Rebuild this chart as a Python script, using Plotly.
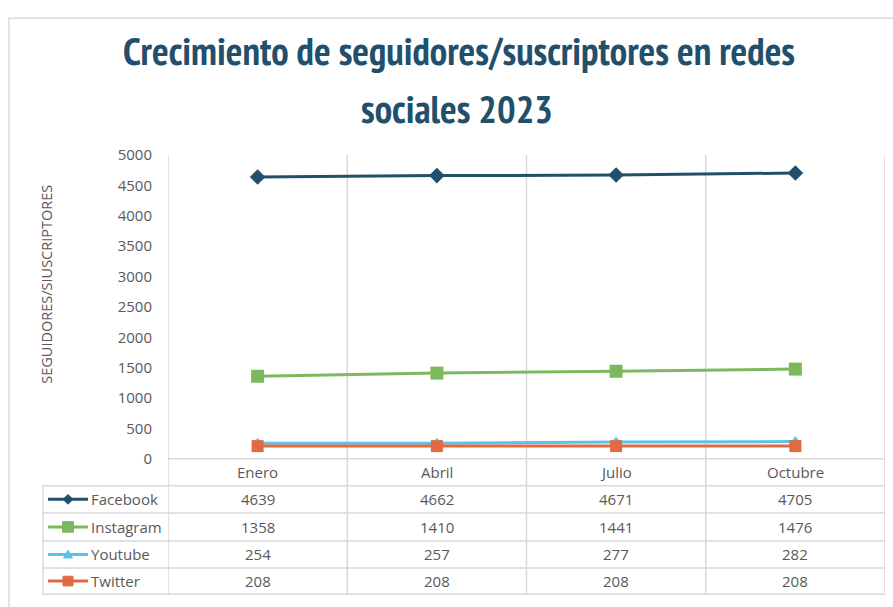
import plotly.graph_objects as go

categories = ["Enero", "Abril", "Julio", "Octubre"]
facebook = [4639, 4662, 4671, 4705]
instagram = [1358, 1410, 1441, 1476]
youtube = [254, 257, 277, 282]
twitter = [208, 208, 208, 208]
series_names = ["Facebook", "Instagram", "Youtube", "Twitter"]
y_ticks = list(range(0, 5001, 500))
title_lines = ["Crecimiento de seguidores/suscriptores en redes", "sociales 2023"]
y_title = "SEGUIDORES/SIUSCRIPTORES"

W, H = 893, 607
def px(x):
    return x / W
def py(y):
    return 1 - y / H

colors = {"Facebook": "#22506C", "Instagram": "#7CB95E", "Youtube": "#5BC3EA", "Twitter": "#E06B43"}
symbols = {"Facebook": "diamond", "Instagram": "square", "Youtube": "triangle-up", "Twitter": "square"}
msizes = {"Facebook": 12, "Instagram": 13, "Youtube": 11, "Twitter": 12}
data = {"Facebook": facebook, "Instagram": instagram, "Youtube": youtube, "Twitter": twitter}

GRID = "#D9D9D9"
TXT = "#595959"
FONT = "Open Sans, Liberation Sans, sans-serif"
TFONT = "PT Sans Narrow, Fira Sans Condensed, Roboto Condensed, sans-serif"
TCOLOR = "#22506C"
TSIZE = 39

fig = go.Figure()
xs = list(range(len(categories)))
for name in series_names:
    fig.add_trace(go.Scatter(
        x=xs, y=data[name], mode="lines+markers", name=name,
        line=dict(color=colors[name], width=3),
        marker=dict(symbol=symbols[name], size=msizes[name], color=colors[name]),
        showlegend=False, cliponaxis=False,
    ))

plot_l, plot_r, plot_t, plot_b = 168, 885, 149, 463
tab_left = 43
row_edges = [463, 491, 519, 548, 576, 603]

shapes = []
for i in range(len(categories) + 1):
    shapes.append(dict(type="line", xref="x", yref="paper", x0=i - 0.5, x1=i - 0.5,
                       y0=py(row_edges[-1]), y1=py(plot_t), line=dict(color=GRID, width=1.5), layer="below"))
shapes.append(dict(type="line", xref="paper", yref="paper", x0=px(tab_left), x1=px(tab_left),
                   y0=py(row_edges[-1]), y1=py(row_edges[1]), line=dict(color=GRID, width=1.5)))
shapes.append(dict(type="line", xref="paper", yref="paper", x0=px(plot_l), x1=px(plot_r),
                   y0=py(row_edges[0]), y1=py(row_edges[0]), line=dict(color=GRID, width=1.5), layer="below"))
for y in row_edges[1:]:
    shapes.append(dict(type="line", xref="paper", yref="paper", x0=px(tab_left), x1=px(plot_r),
                       y0=py(y), y1=py(y), line=dict(color=GRID, width=1.5)))
shapes.append(dict(type="rect", xref="paper", yref="paper", x0=px(9), x1=px(905), y0=py(620), y1=py(7.5),
                   line=dict(color="#D9D9D9", width=1.5), fillcolor="rgba(0,0,0,0)", layer="below"))


def marker_path(sym, cx, cy, s):
    h = s / 2
    if sym == "diamond":
        pts = [(cx, cy - h), (cx + h, cy), (cx, cy + h), (cx - h, cy)]
    elif sym == "square":
        pts = [(cx - h, cy - h), (cx + h, cy - h), (cx + h, cy + h), (cx - h, cy + h)]
    else:
        pts = [(cx, cy - h), (cx + h, cy + h * 0.8), (cx - h, cy + h * 0.8)]
    return "M " + " L ".join(f"{px(a)},{py(b)}" for a, b in pts) + " Z"


annotations = []
hc = (row_edges[0] + row_edges[1]) / 2
for i, c in enumerate(categories):
    annotations.append(dict(x=i, y=py(hc), xref="x", yref="paper", text=c, showarrow=False,
                            font=dict(family=FONT, size=15, color=TXT), xanchor="center", yanchor="middle"))
for r, name in enumerate(series_names):
    yc = (row_edges[r + 1] + row_edges[r + 2]) / 2
    shapes.append(dict(type="line", xref="paper", yref="paper", x0=px(48), x1=px(88), y0=py(yc), y1=py(yc),
                       line=dict(color=colors[name], width=3)))
    shapes.append(dict(type="path", xref="paper", yref="paper",
                       path=marker_path(symbols[name], 68, yc, msizes[name] - 2),
                       fillcolor=colors[name], line=dict(color=colors[name], width=1)))
    annotations.append(dict(x=px(89), y=py(yc), xref="paper", yref="paper", text=name, showarrow=False,
                            font=dict(family=FONT, size=15, color=TXT), xanchor="left", yanchor="middle"))
    for i, v in enumerate(data[name]):
        annotations.append(dict(x=i, y=py(yc), xref="x", yref="paper", text=str(v), showarrow=False,
                                font=dict(family=FONT, size=15, color=TXT), xanchor="center", yanchor="middle"))

annotations.append(dict(x=px(47), y=py(283), xref="paper", yref="paper", text=y_title,
                        textangle=-90, showarrow=False, font=dict(family=FONT, size=14.5, color=TXT),
                        xanchor="center", yanchor="middle"))
annotations.append(dict(x=px(457), y=py(101), xref="paper", yref="paper", text=title_lines[1],
                        showarrow=False, xanchor="center", yanchor="middle",
                        font=dict(family=TFONT, size=TSIZE, color=TCOLOR, weight="bold")))

fig.update_layout(
    width=W, height=H,
    margin=dict(l=0, r=0, t=0, b=0),
    paper_bgcolor="white", plot_bgcolor="rgba(0,0,0,0)",
    title=dict(text=title_lines[0],
               x=px(459), xanchor="center", y=py(51), yanchor="middle",
               font=dict(family=TFONT, size=TSIZE, color=TCOLOR, weight="bold")),
    xaxis=dict(domain=[px(plot_l), px(plot_r)], range=[-0.5, len(categories) - 0.5],
               showticklabels=False, showgrid=False, zeroline=False, showline=False, ticks=""),
    yaxis=dict(domain=[py(plot_b), py(plot_t)], range=[0, 5000], tickvals=y_ticks,
               showgrid=False, zeroline=False, showline=False, ticks="", ticklabelstandoff=15,
               tickfont=dict(family=FONT, size=15, color=TXT)),
    shapes=shapes, annotations=annotations,
)
fig.write_html("out.html", config={"displayModeBar": False},
               post_script="document.body.style.margin='0px';")
